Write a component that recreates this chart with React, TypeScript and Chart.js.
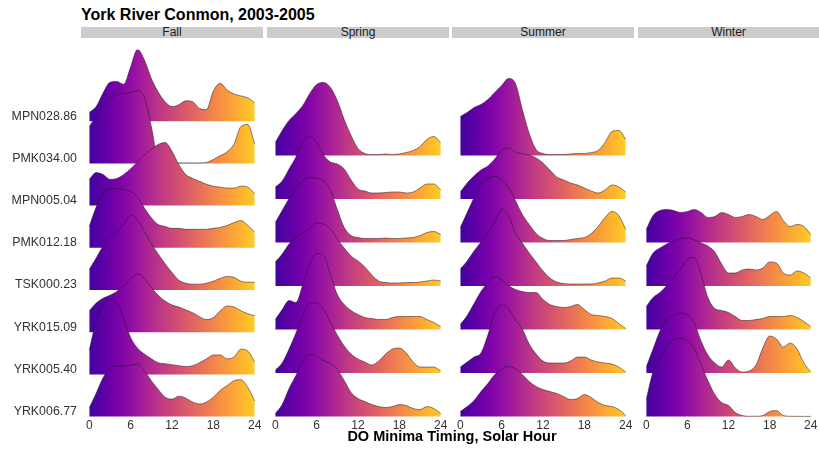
import React, { useEffect, useRef } from "react";
import { Chart, registerables } from "chart.js";

Chart.register(...registerables);

// Solar hour grid on which each density curve is sampled
const HOURS = [0, 1, 2, 3, 4, 5, 6, 7, 8, 9, 10, 11, 12, 13, 14, 15, 16, 17, 18, 19, 20, 21, 22, 23, 24];
const HOUR_TICKS = [0, 6, 12, 18, 24];

// Stations, listed top to bottom
const STATIONS = ["MPN028.86", "PMK034.00", "MPN005.04", "PMK012.18", "TSK000.23", "YRK015.09", "YRK005.40", "YRK006.77"];
const SEASONS = ["Fall", "Spring", "Summer", "Winter"];

// Relative density of DO-minimum timing, per station and season
const fallMPN028_86 = [9, 15, 29, 40, 41, 38, 56, 74, 63, 44, 30, 20, 15, 17, 21, 20, 13, 12, 31, 39, 32, 28, 26, 24, 19];
const fallPMK034_00 = [38, 48, 58, 66, 71, 72, 73, 75, 68, 38, 4, 1, 0.5, 0.5, 0.5, 0.5, 0.5, 1, 4, 8, 12, 20, 38, 40, 20];
const fallMPN005_04 = [27, 34, 32, 27, 28, 32, 38, 45, 52, 58, 63, 65, 56, 42, 32, 28, 25, 22, 20, 19, 18, 18, 20, 19, 12];
const fallPMK012_18 = [22, 42, 56, 61, 61, 60, 58, 52, 41, 31, 24, 22, 20, 20, 19, 19, 19, 19, 20, 21, 23, 26, 28, 23, 16];
const fallTSK000_23 = [21, 33, 45, 53, 60, 68, 77, 72, 60, 48, 37, 27, 18, 10, 7, 6, 6, 7, 9, 12, 14, 13, 9, 8, 8];
const fallYRK015_09 = [22, 30, 35, 38, 42, 48, 55, 60, 55, 46, 38, 32, 28, 26, 23, 20, 16, 13, 15, 22, 27, 26, 22, 19, 17];
const fallYRK005_40 = [25, 55, 72, 78, 74, 57, 38, 27, 21, 16, 12, 11, 10, 9, 8, 9, 12, 16, 20, 20, 16, 18, 26, 24, 13];
const fallYRK006_77 = [9, 24, 40, 50, 52, 52, 53, 54, 47, 37, 28, 20, 18, 21, 19, 15, 13, 15, 20, 27, 32, 37, 38, 30, 16];

const springPMK034_00 = [13, 25, 35, 42, 50, 62, 71, 73, 68, 55, 36, 20, 7, 2, 1, 1, 1.5, 1, 1.5, 3, 5, 9, 16, 19, 13];
const springMPN005_04 = [12, 18, 30, 42, 58, 62, 57, 44, 37, 35, 30, 19, 10, 8, 6, 6, 6.5, 7, 7, 6, 7, 11, 15, 15, 9];
const springPMK012_18 = [20, 32, 44, 54, 62, 65, 64, 62, 52, 33, 15, 7, 5, 4, 4, 4, 4.5, 4, 4, 4.5, 5, 7, 10, 11, 8];
const springTSK000_23 = [24, 32, 42, 49, 53, 57, 63, 62, 57, 47, 38, 30, 25, 19, 11, 5, 3.5, 3, 3, 3.5, 3.5, 4, 5, 6, 5];
const springYRK015_09 = [10, 20, 29, 27, 45, 65, 76, 74, 55, 35, 25, 19, 15, 12, 11, 10, 10, 12, 13, 13, 13, 13, 10, 7, 3];
const springYRK005_40 = [3, 10, 24, 40, 58, 70, 70, 63, 51, 38, 27, 19, 14, 11, 8, 12, 19, 24, 25, 20, 11, 6, 6, 6, 2];
const springYRK006_77 = [3, 12, 28, 41, 56, 62, 60, 56, 53, 47, 36, 24, 18, 15, 12, 10, 9, 10, 12, 11, 8, 7, 10, 8, 3];

const summerPMK034_00 = [39, 43, 48, 51, 56, 63, 70, 77, 72, 46, 22, 6, 2, 1, 1, 1, 1.5, 2, 2, 3, 5, 13, 24, 25, 16];
const summerMPN005_04 = [7, 16, 23, 29, 33, 40, 49, 51, 47, 45, 44, 41, 36, 29, 22, 19, 16, 14, 11, 8, 6, 9, 14, 12, 7];
const summerPMK012_18 = [15, 30, 45, 58, 64, 66, 62, 55, 42, 28, 18, 9, 4, 2, 2, 2, 3, 4, 5, 9, 16, 25, 31, 27, 13];
const summerTSK000_23 = [17, 25, 35, 44, 53, 64, 77, 70, 53, 43, 33, 24, 15, 8, 4, 2.5, 2, 2, 2, 2, 3, 5, 8, 8, 5];
const summerYRK015_09 = [5, 14, 26, 38, 47, 53, 50, 44, 40, 38, 37, 37, 30, 25, 23, 22, 23, 25, 20, 15, 14, 13, 11, 6, 1];
const summerYRK005_40 = [6, 11, 16, 20, 38, 60, 68, 64, 53, 44, 29, 19, 12, 10, 10, 10, 12, 16, 16, 13, 11, 10, 9, 6, 1];
const summerYRK006_77 = [5, 10, 16, 25, 33, 42, 47, 50, 48, 42, 35, 30, 27, 25, 23, 20, 17, 18, 22, 19, 14, 11, 10, 7, 1];

const winterPMK012_18 = [13, 27, 32, 33, 32, 30, 31, 33, 30, 25, 26, 30, 28, 25, 26, 28, 26, 23, 27, 31, 22, 16, 18, 16, 8];
const winterTSK000_23 = [20, 33, 38, 42, 45, 47, 48, 46, 43, 40, 34, 22, 13, 13, 16, 17, 16, 18, 24, 23, 13, 11, 15, 13, 8];
const winterYRK015_09 = [23, 32, 37, 44, 52, 60, 70, 72, 55, 32, 21, 19, 17, 13, 9, 9, 10, 11, 13, 13, 13, 14, 12, 8, 3];
const winterYRK005_40 = [6, 24, 42, 53, 58, 60, 58, 50, 32, 18, 10, 6, 13, 5, 1, 2, 8, 25, 37, 34, 26, 30, 24, 10, 1];
const winterYRK006_77 = [17, 45, 58, 70, 77, 78, 76, 68, 52, 36, 22, 14, 11, 4, 1, 0.3, 0.3, 1, 5, 6, 1, 0.3, 0.2, 0.2, 0.2];

// Lookup table: season -> station -> density samples
const DENSITIES: Record<string, Record<string, number[]>> = {
  Fall: {
    "MPN028.86": fallMPN028_86,
    "PMK034.00": fallPMK034_00,
    "MPN005.04": fallMPN005_04,
    "PMK012.18": fallPMK012_18,
    "TSK000.23": fallTSK000_23,
    "YRK015.09": fallYRK015_09,
    "YRK005.40": fallYRK005_40,
    "YRK006.77": fallYRK006_77,
  },
  Spring: {
    "PMK034.00": springPMK034_00,
    "MPN005.04": springMPN005_04,
    "PMK012.18": springPMK012_18,
    "TSK000.23": springTSK000_23,
    "YRK015.09": springYRK015_09,
    "YRK005.40": springYRK005_40,
    "YRK006.77": springYRK006_77,
  },
  Summer: {
    "PMK034.00": summerPMK034_00,
    "MPN005.04": summerMPN005_04,
    "PMK012.18": summerPMK012_18,
    "TSK000.23": summerTSK000_23,
    "YRK015.09": summerYRK015_09,
    "YRK005.40": summerYRK005_40,
    "YRK006.77": summerYRK006_77,
  },
  Winter: {
    "PMK012.18": winterPMK012_18,
    "TSK000.23": winterTSK000_23,
    "YRK015.09": winterYRK015_09,
    "YRK005.40": winterYRK005_40,
    "YRK006.77": winterYRK006_77,
  },
};

// Ridge height (in row units) per density unit
const DENSITY_SCALE = 0.023;

// Plasma palette, evaluated from t = 0 to 1 in steps of 0.05
const PLASMA = [
  "#0d0887", "#2a0593", "#41049d", "#5601a4", "#6a00a8", "#7e03a8", "#8f0da4",
  "#a11b9b", "#b12a90", "#bf3984", "#cc4778", "#d6556d", "#e16462", "#ea7457",
  "#f2844b", "#f89540", "#fca636", "#feb82c", "#fccd25", "#f5e426", "#f0f921",
];
// Hour range spanned by the colour scale
const FILL_LOW = -3;
const FILL_HIGH = 27;

const X_MIN = -1.2;
const X_MAX = 25.2;
const Y_MIN = 0.99;
const Y_MAX = 9.7;

const FONT = '"Liberation Sans", Arial, Helvetica, sans-serif';
const TEXT_COLOR = "#333333";

const PANEL_TOP = 38;
const CANVAS_HEIGHT = 414;
const X_AXIS_HEIGHT = 35;
const Y_AXIS_WIDTH = 81;
const STRIP_TOP = 27;
const STRIP_HEIGHT = 11;

// Panel placement: [canvas left, canvas width, strip left, strip width]
const PANELS: Record<string, number[]> = {
  Fall: [0, 263, 81, 182],
  Spring: [267, 182, 267, 182],
  Summer: [452, 182, 452, 182],
  Winter: [638, 181, 638, 181],
};

const rowOf = (station: string) => STATIONS.length - STATIONS.indexOf(station);

const plasmaFill = (ctx: any) => {
  const chart = ctx.chart;
  const xs = chart.scales && chart.scales.x;
  if (!chart.chartArea || !xs) return PLASMA[10];
  const g = chart.ctx.createLinearGradient(xs.getPixelForValue(FILL_LOW), 0, xs.getPixelForValue(FILL_HIGH), 0);
  PLASMA.forEach((c, i) => g.addColorStop(i / (PLASMA.length - 1), c));
  return g;
};

function Facet({ season, showStations }: { season: string; showStations: boolean }) {
  const ref = useRef<HTMLCanvasElement | null>(null);
  const [left, width] = PANELS[season];

  useEffect(() => {
    if (!ref.current) return;
    const series = DENSITIES[season];
    // bottom row first so lower ridges are painted over the ones above
    const rows = STATIONS.filter((s) => series[s]).reverse();
    const datasets = rows.map((station) => {
      const base = rowOf(station);
      const d = series[station];
      return {
        label: station,
        data: HOURS.map((h, i) => ({ x: h, y: base + d[i] * DENSITY_SCALE })),
        fill: { value: base },
        backgroundColor: plasmaFill,
        borderColor: "rgba(30,20,35,0.85)",
        borderWidth: 0.6,
        pointRadius: 0,
        cubicInterpolationMode: "monotone" as const,
      };
    });

    const chart = new Chart(ref.current, {
      type: "line",
      data: { datasets },
      options: {
        responsive: false,
        animation: false,
        events: [],
        layout: { padding: 0 },
        plugins: {
          legend: { display: false },
          tooltip: { enabled: false },
          title: { display: false },
        },
        scales: {
          x: {
            type: "linear",
            min: X_MIN,
            max: X_MAX,
            grid: { display: false, drawTicks: false },
            border: { display: false },
            ticks: {
              autoSkip: false,
              maxRotation: 0,
              padding: 1,
              color: TEXT_COLOR,
              font: { family: FONT, size: 12 },
            },
            afterBuildTicks: (scale: any) => {
              scale.ticks = HOUR_TICKS.map((v) => ({ value: v }));
            },
            afterFit: (scale: any) => {
              scale.height = X_AXIS_HEIGHT;
            },
          },
          y: {
            type: "linear",
            min: Y_MIN,
            max: Y_MAX,
            display: showStations,
            grid: { display: false, drawTicks: false },
            border: { display: false },
            ticks: {
              autoSkip: false,
              padding: 4,
              labelOffset: -5,
              color: TEXT_COLOR,
              font: { family: FONT, size: 12.4 },
              callback: (value: any) => STATIONS[STATIONS.length - Number(value)] ?? "",
            },
            afterBuildTicks: (scale: any) => {
              scale.ticks = STATIONS.map((_, i) => ({ value: i + 1 }));
            },
            afterFit: (scale: any) => {
              scale.width = showStations ? Y_AXIS_WIDTH : 0;
            },
          },
        },
      },
    } as any);
    return () => chart.destroy();
  }, [season, showStations]);

  return (
    <canvas
      ref={ref}
      width={width}
      height={CANVAS_HEIGHT}
      style={{ position: "absolute", left, top: PANEL_TOP, width, height: CANVAS_HEIGHT }}
    />
  );
}

export default function App() {
  return (
    <div
      style={{
        position: "absolute",
        left: 0,
        top: 0,
        width: 819,
        height: 452,
        overflow: "hidden",
        background: "#ffffff",
        fontFamily: FONT,
      }}
    >
      <div
        style={{
          position: "absolute",
          left: 81,
          top: 7,
          fontSize: 16,
          lineHeight: "16px",
          fontWeight: "bold",
          color: "#000000",
          whiteSpace: "nowrap",
        }}
      >
        York River Conmon, 2003-2005
      </div>
      {SEASONS.map((season) => {
        const [, , stripLeft, stripWidth] = PANELS[season];
        return (
          <div
            key={"strip-" + season}
            style={{
              position: "absolute",
              left: stripLeft,
              top: STRIP_TOP,
              width: stripWidth,
              height: STRIP_HEIGHT,
              background: "#cccccc",
              color: "#1a1a1a",
              fontSize: 12,
              lineHeight: STRIP_HEIGHT + "px",
              textAlign: "center",
              whiteSpace: "nowrap",
            }}
          >
            {season}
          </div>
        );
      })}
      {SEASONS.map((season, i) => (
        <Facet key={season} season={season} showStations={i === 0} />
      ))}
      <div
        style={{
          position: "absolute",
          left: 81,
          top: 429,
          width: 742,
          textAlign: "center",
          fontSize: 14.5,
          lineHeight: "15px",
          fontWeight: "bold",
          color: "#000000",
          whiteSpace: "nowrap",
        }}
      >
        DO Minima Timing, Solar Hour
      </div>
    </div>
  );
}
